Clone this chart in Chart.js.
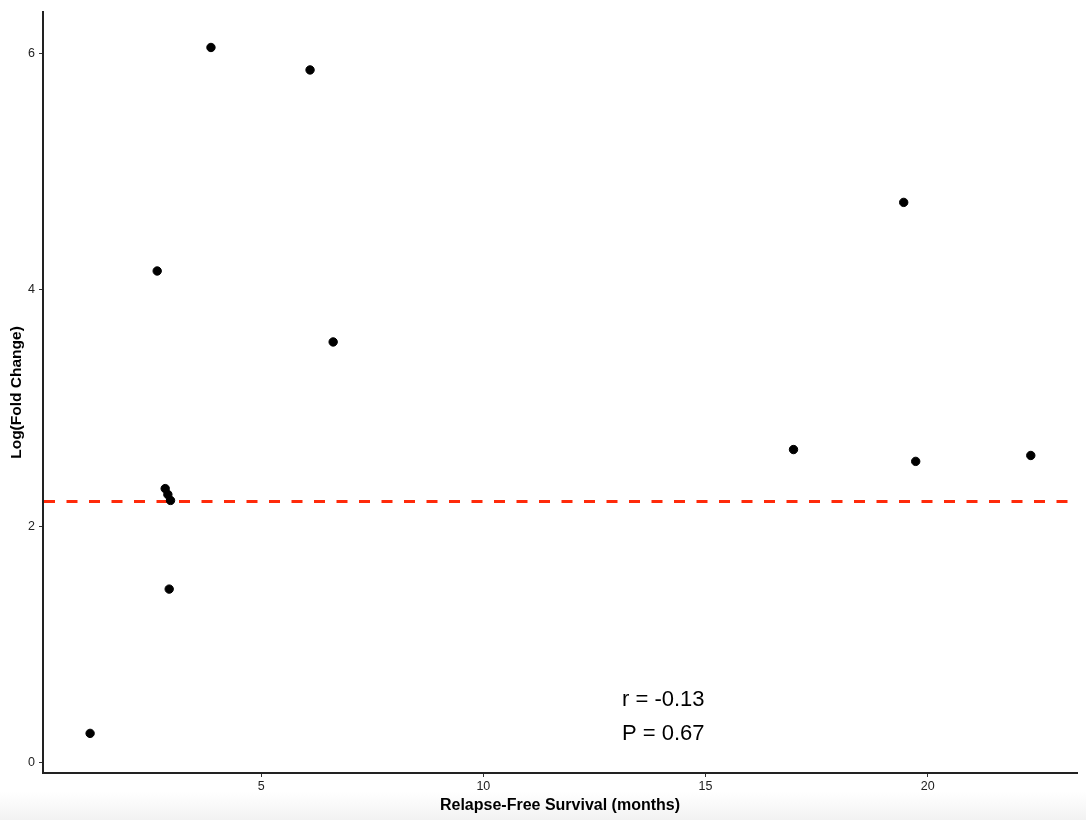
<!DOCTYPE html>
<html>
<head>
<meta charset="utf-8">
<script src="https://cdn.jsdelivr.net/npm/chart.js@4"></script>
<style>
  html, body { margin: 0; padding: 0; }
  body {
    width: 1086px; height: 820px; overflow: hidden;
    background: linear-gradient(to bottom, #fff 0px, #fff 792px, #f2f2f2 820px);
  }
  #wrap { position: relative; width: 1086px; height: 820px; }
</style>
</head>
<body>
<div id="wrap"><canvas id="scatterChart" width="1086" height="820"></canvas></div>
<script>
// survival (months) vs log fold change
const rfsMonths = [1.15, 2.66, 3.87, 6.10, 6.62, 2.84, 2.90, 2.96, 2.93, 16.98, 19.46, 19.73, 22.32];
const logFold   = [0.25, 4.16, 6.05, 5.86, 3.56, 2.32, 2.27, 2.22, 1.47, 2.65, 4.74, 2.55, 2.60];
const xTicks = [5, 10, 15, 20];
const yTicks = [0, 2, 4, 6];
const cutoff = 2.21;
const statLines = ['r = -0.13', 'P = 0.67'];

const points = rfsMonths.map((x, i) => ({ x: x, y: logFold[i] }));

// red dashed cutoff line + r / P text
const extras = {
  id: 'extras',
  beforeDatasetsDraw(chart) {
    const c = chart.ctx, a = chart.chartArea;
    const y = chart.scales.y.getPixelForValue(cutoff);
    c.save();
    c.strokeStyle = '#ff2a0a';
    c.lineWidth = 3;
    c.setLineDash([11, 11.5]);
    c.beginPath();
    c.moveTo(a.left + 1, y);
    c.lineTo(a.right, y);
    c.stroke();
    c.restore();
  },
  afterDatasetsDraw(chart) {
    const c = chart.ctx;
    const xs = chart.scales.x, ys = chart.scales.y;
    c.save();
    c.fillStyle = '#000';
    c.font = '22px "Liberation Sans", Arial, sans-serif';
    c.textAlign = 'center';
    c.textBaseline = 'middle';
    const cx = xs.getPixelForValue(14.05);
    c.fillText(statLines[0], cx, ys.getPixelForValue(0.53));
    c.fillText(statLines[1], cx, ys.getPixelForValue(0.245));
    c.restore();
  }
};

const ctx = document.getElementById('scatterChart').getContext('2d');
const chart = new Chart(ctx, {
  type: 'scatter',
  data: {
    datasets: [{
      data: points,
      backgroundColor: '#000',
      borderColor: '#000',
      pointRadius: 4.2,
      pointHoverRadius: 4.2
    }]
  },
  plugins: [extras],
  options: {
    responsive: false,
    animation: false,
    layout: { padding: { top: 12, right: 9, left: 0, bottom: 0 } },
    plugins: { legend: { display: false }, tooltip: { enabled: false } },
    scales: {
      x: {
        type: 'linear',
        min: 0.09, max: 23.36,
        afterBuildTicks: s => { s.ticks = xTicks.map(v => ({ value: v })); },
        afterFit: s => { s.height = 47; },
        grid: { drawOnChartArea: false, tickLength: 4, tickColor: '#333', tickWidth: 1 },
        border: { display: true, color: '#222', width: 2 },
        ticks: { color: '#222', padding: 2, font: { family: '"Liberation Sans", Arial, sans-serif', size: 12.5 } },
        title: {
          display: true, text: 'Relapse-Free Survival (months)', color: '#000',
          padding: { top: 7, bottom: 5 },
          font: { family: '"Liberation Sans", Arial, sans-serif', size: 16, weight: 'bold' }
        }
      },
      y: {
        type: 'linear',
        min: -0.085, max: 6.35,
        afterBuildTicks: s => { s.ticks = yTicks.map(v => ({ value: v })); },
        afterFit: s => { s.width = 43; },
        grid: { drawOnChartArea: false, tickLength: 4, tickColor: '#333', tickWidth: 1 },
        border: { display: true, color: '#222', width: 2 },
        ticks: { color: '#222', padding: 4, font: { family: '"Liberation Sans", Arial, sans-serif', size: 12.5 } },
        title: {
          display: true, text: 'Log(Fold Change)', color: '#000',
          padding: { top: 7, bottom: 0 },
          font: { family: '"Liberation Sans", Arial, sans-serif', size: 15.5, weight: 'bold' }
        }
      }
    }
  }
});
</script>
</body>
</html>
